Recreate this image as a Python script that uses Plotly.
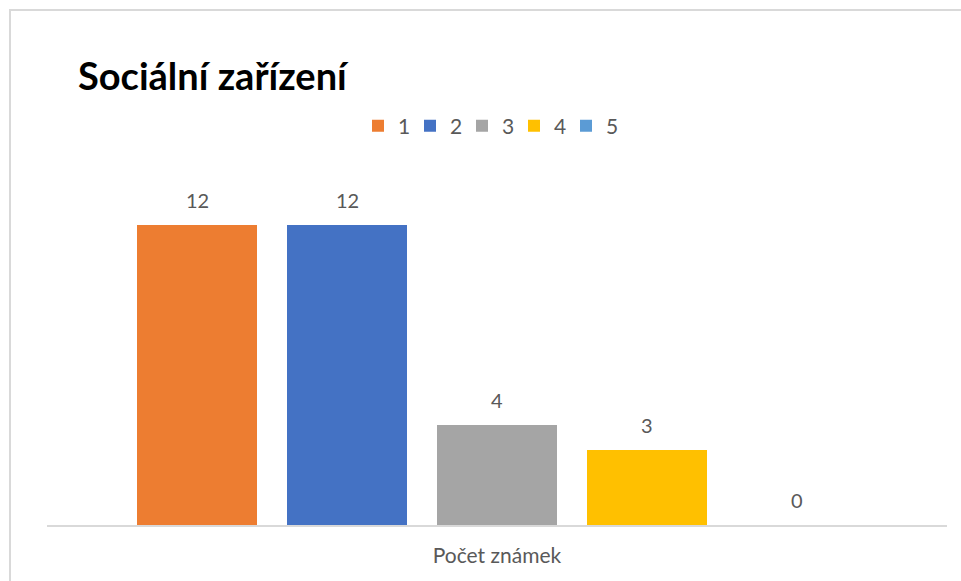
import plotly.graph_objects as go

category = ["Počet známek"]
series_names = ["1", "2", "3", "4", "5"]
values = [12, 12, 4, 3, 0]
colors = ["#ED7D31", "#4472C4", "#A5A5A5", "#FFC000", "#5B9BD5"]
title_text = "Sociální zařízení"

FONT = "Lato"
TXT = "#595959"

fig = go.Figure()
positions = list(range(len(series_names)))
for pos, name, val, col in zip(positions, series_names, values, colors):
    fig.add_trace(go.Bar(
        x=[pos], y=[val], name=name, marker=dict(color=col, line=dict(width=0)),
        width=0.8, hoverinfo="skip",
    ))
    fig.add_annotation(
        x=pos, y=val, text=str(val), showarrow=False, yanchor="middle",
        yshift=25, font=dict(family=FONT, size=20, color=TXT),
    )

center = sum(positions) / len(positions)

fig.update_layout(
    width=961, height=581,
    margin=dict(l=47, r=14, t=175, b=56),
    paper_bgcolor="white", plot_bgcolor="white",
    title=dict(text="<b>" + title_text + "</b>", x=78 / 961, xanchor="left",
               xref="container", y=1 - 77 / 581, yanchor="middle", yref="container",
               font=dict(family=FONT, size=38, color="black")),
    legend=dict(orientation="h", x=0.49, xanchor="center", y=(525 - 126) / 350,
                yanchor="middle", font=dict(family=FONT, size=21, color=TXT),
                itemwidth=30, entrywidth=7, entrywidthmode="pixels",
                traceorder="normal"),
    showlegend=True,
    xaxis=dict(range=[-1, 5], tickvals=[center], ticktext=category,
               showline=True, linecolor="#D9D9D9", linewidth=2,
               showgrid=False, zeroline=False, ticks="",
               tickfont=dict(family=FONT, size=21, color=TXT),
               ticklabelstandoff=11, fixedrange=True),
    yaxis=dict(range=[0, 14], visible=False, showgrid=False, zeroline=False,
               fixedrange=True),
    shapes=[dict(type="rect", xref="paper", yref="paper",
                 x0=(10 - 47) / 900, x1=1.2, y0=-0.3, y1=(525 - 10) / 350,
                 line=dict(color="#D9D9D9", width=2), fillcolor="rgba(0,0,0,0)",
                 layer="below")],
)

fig.write_html("out.html", config={"displayModeBar": False},
               post_script="document.body.style.margin='0px';")
